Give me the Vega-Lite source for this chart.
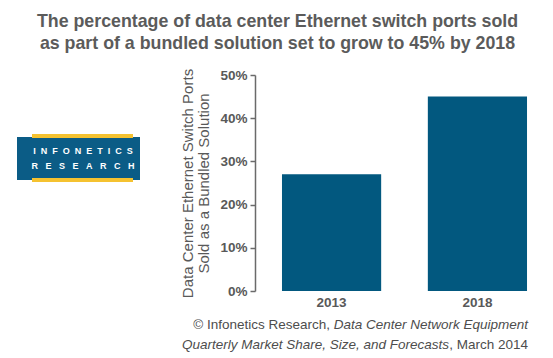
{
  "$schema": "https://vega.github.io/schema/vega-lite/v6.json",
  "background": "white",
  "padding": {"left": 17, "top": 13, "right": 0, "bottom": 0},
  "title": {
    "text": ["The percentage of data center Ethernet switch ports sold", "as part of a bundled solution set to grow to 45% by 2018"],
    "font": "Liberation Sans",
    "fontSize": 17.8,
    "fontWeight": "bold",
    "color": "#5b5b5b",
    "lineHeight": 22,
    "anchor": "middle",
    "dx": -8,
    "offset": 15
  },
  "spacing": 40,
  "hconcat": [
    {
      "width": 123,
      "height": 216,
      "layer": [
        {
          "data": {"values": [{"logo": "Infonetics Research"}]},
          "mark": {"type": "rect", "color": "#0b5c86"},
          "encoding": {"x": {"value": 0}, "x2": {"value": 123}, "y": {"value": 62}, "y2": {"value": 105}}
        },
        {
          "data": {"values": [{"logo": "Infonetics Research"}]},
          "mark": {"type": "rect", "color": "#f5c230"},
          "encoding": {"x": {"value": 15}, "x2": {"value": 116}, "y": {"value": 59}, "y2": {"value": 63}}
        },
        {
          "data": {"values": [{"logo": "Infonetics Research"}]},
          "mark": {"type": "rect", "color": "#f5c230"},
          "encoding": {"x": {"value": 15}, "x2": {"value": 116}, "y": {"value": 103}, "y2": {"value": 107}}
        },
        {
          "data": {"values": [{"word": "I\u00a0\u00a0N\u00a0\u00a0F\u00a0\u00a0O\u00a0\u00a0N\u00a0\u00a0E\u00a0\u00a0T\u00a0\u00a0I\u00a0\u00a0C\u00a0\u00a0S"}]},
          "mark": {"type": "text", "color": "white", "font": "Liberation Sans", "fontWeight": "bold", "fontSize": 9, "align": "center", "baseline": "middle"},
          "encoding": {"text": {"field": "word"}, "x": {"value": 66}, "y": {"value": 76}}
        },
        {
          "data": {"values": [{"word": "R\u00a0\u00a0\u00a0E\u00a0\u00a0\u00a0S\u00a0\u00a0\u00a0E\u00a0\u00a0\u00a0A\u00a0\u00a0\u00a0R\u00a0\u00a0\u00a0C\u00a0\u00a0\u00a0H"}]},
          "mark": {"type": "text", "color": "white", "font": "Liberation Sans", "fontWeight": "bold", "fontSize": 9, "align": "center", "baseline": "middle"},
          "encoding": {"text": {"field": "word"}, "x": {"value": 66}, "y": {"value": 91}}
        }
      ]
    },
    {
      "width": 299,
      "height": 216,
      "layer": [
        {
          "data": {"values": [{"year": "2013", "share": 0.27}, {"year": "2018", "share": 0.45}]},
          "mark": {"type": "bar", "color": "#02587f"},
          "encoding": {
            "x": {
              "field": "year", "type": "nominal",
              "scale": {"paddingInner": 0.32, "paddingOuter": 0.185},
              "axis": {"title": null, "labelAngle": 0, "domain": false, "ticks": false, "labelFont": "Liberation Sans", "labelFontSize": 13.5, "labelFontWeight": "bold", "labelColor": "#595959", "labelPadding": 4}
            },
            "y": {
              "field": "share", "type": "quantitative",
              "scale": {"domain": [0, 0.5]},
              "axis": {
                "title": ["Data Center Ethernet Switch Ports", "Sold as a Bundled Solution"],
                "titleFont": "Liberation Sans", "titleFontSize": 15, "titleFontWeight": "normal", "titleColor": "#595959", "titleLineHeight": 16, "titlePadding": 8,
                "values": [0, 0.1, 0.2, 0.3, 0.4, 0.5], "format": ".0%",
                "labelFont": "Liberation Sans", "labelFontSize": 13.5, "labelFontWeight": "bold", "labelColor": "#595959", "labelPadding": 3,
                "grid": false, "tickSize": 5, "tickColor": "#6a6a6a", "tickWidth": 1.5, "domainColor": "#6a6a6a", "domainWidth": 1.5
              }
            }
          }
        },
        {
          "data": {"values": [{"part": "Data Center Network Equipment"}]},
          "mark": {"type": "text", "font": "Liberation Sans", "fontSize": 13.5, "fontStyle": "italic", "color": "#4d4d4d", "align": "right", "baseline": "middle", "dx": -26, "dy": 34},
          "encoding": {"text": {"field": "part"}, "x": {"value": "width"}, "y": {"value": "height"}}
        },
        {
          "data": {"values": [{"part": "© Infonetics Research,"}]},
          "mark": {"type": "text", "font": "Liberation Sans", "fontSize": 13.5, "color": "#4d4d4d", "align": "right", "baseline": "middle", "dx": -224, "dy": 34},
          "encoding": {"text": {"field": "part"}, "x": {"value": "width"}, "y": {"value": "height"}}
        },
        {
          "data": {"values": [{"part": ", March 2014"}]},
          "mark": {"type": "text", "font": "Liberation Sans", "fontSize": 13.5, "color": "#4d4d4d", "align": "right", "baseline": "middle", "dx": -26, "dy": 54},
          "encoding": {"text": {"field": "part"}, "x": {"value": "width"}, "y": {"value": "height"}}
        },
        {
          "data": {"values": [{"part": "Quarterly Market Share, Size, and Forecasts"}]},
          "mark": {"type": "text", "font": "Liberation Sans", "fontSize": 13.5, "fontStyle": "italic", "color": "#4d4d4d", "align": "right", "baseline": "middle", "dx": -105, "dy": 54},
          "encoding": {"text": {"field": "part"}, "x": {"value": "width"}, "y": {"value": "height"}}
        }
      ]
    }
  ],
  "config": {"view": {"stroke": null}}
}
